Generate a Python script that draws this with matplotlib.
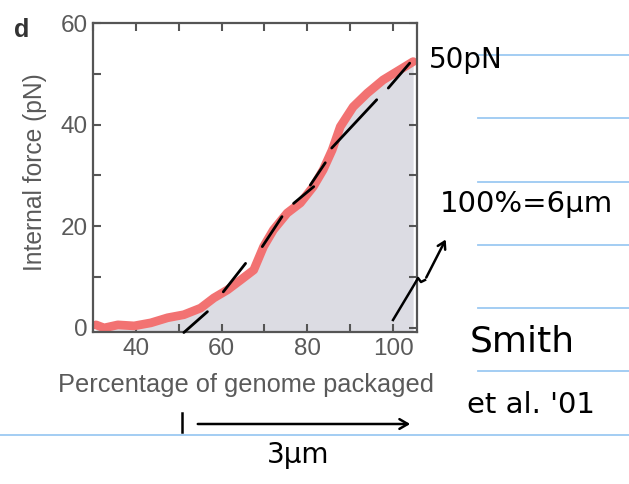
import matplotlib
matplotlib.use("Agg")
import matplotlib.pyplot as plt
from matplotlib.lines import Line2D
import numpy as np

# ---- data ----
pct_packaged = [30.7, 32.6, 35.8, 39.6, 43.5, 47.4, 51.2, 55.1, 58.2, 61.4, 64.4,
                67.5, 69.8, 72.1, 75.3, 78.4, 81.4, 83.7, 85.8, 87.7, 90.7, 94.0,
                97.7, 101.6, 104.7]
force_pN = [0.6, 0.0, 0.6, 0.4, 1.0, 2.0, 2.6, 3.9, 5.9, 7.5, 9.4,
            11.4, 16.0, 19.3, 22.6, 24.6, 27.8, 31.1, 35.0, 39.6, 43.5, 46.2,
            48.8, 50.8, 52.4]

# hand-drawn dashed line: start/end of each dash (data coords)
dash_x0 = [51.2, 60.4, 69.5, 76.8, 80.7, 85.7, 98.9]
dash_y0 = [-0.9, 7.1, 16.0, 24.5, 28.1, 35.4, 47.2]
dash_x1 = [56.7, 65.6, 74.1, 81.5, 84.2, 96.2, 103.9]
dash_y1 = [3.2, 12.7, 21.9, 27.8, 32.5, 44.9, 52.1]

x_ticks = [40, 60, 80, 100]
y_ticks = [0, 20, 40, 60]

W, H = 629, 484
fig = plt.figure(figsize=(W / 100, H / 100), dpi=100)
fig.patch.set_facecolor("white")

def fx(x):
    return x / W

def fy(y):
    return 1 - y / H

# notebook ruling lines (blue)
ruling_y = [55, 118, 182, 245, 308, 371]
for yy in ruling_y:
    fig.add_artist(Line2D([fx(478), fx(629)], [fy(yy), fy(yy)], color="#9cc9f2", lw=1.3, zorder=0))
fig.add_artist(Line2D([0, 1], [fy(435), fy(435)], color="#9cc9f2", lw=1.3, zorder=0))

ax = fig.add_axes([fx(93), fy(332), (417 - 93) / W, (332 - 23) / H])
ax.set_xlim(30.2, 105.6)
ax.set_ylim(-0.8, 60)

ax.fill_between(pct_packaged, force_pN, -0.8, color="#dcdce3", lw=0, zorder=1)
ax.plot(pct_packaged, force_pN, color="#f27272", lw=6.3, solid_capstyle="round",
        solid_joinstyle="round", zorder=2)
for a, b, c, d in zip(dash_x0, dash_y0, dash_x1, dash_y1):
    ax.plot([a, c], [b, d], color="black", lw=2.0, solid_capstyle="round", zorder=3,
            clip_on=False)

grey = "#5a5a5a"
ax.set_xticks(x_ticks)
ax.set_yticks(y_ticks)
ax.set_xticks(np.arange(30, 106, 10), minor=True)
ax.set_yticks(np.arange(0, 61, 10), minor=True)
ax.tick_params(which="both", direction="in", top=True, right=True, length=6,
               width=1.5, color="#555555")
ax.tick_params(which="major", labelsize=17.5, labelcolor=grey, pad=4)
for lab in ax.get_xticklabels() + ax.get_yticklabels():
    lab.set_fontfamily("Liberation Sans")
for s in ax.spines.values():
    s.set_color("#555555")
    s.set_linewidth(1.6)

fig.text(fx(246), fy(385), "Percentage of genome packaged", ha="center", va="center",
         fontsize=18.3, color=grey, family="Liberation Sans")
fig.text(fx(35), fy(172), "Internal force (pN)", ha="center", va="center", rotation=90,
         fontsize=17.7, color=grey, family="Liberation Sans")
fig.text(fx(22), fy(30), "d", ha="center", va="center", fontsize=18, fontweight="bold",
         color="#333333", family="Liberation Sans")

# handwritten annotations
hw = dict(color="black", family="DejaVu Sans", ha="center", va="center")
fig.text(fx(466), fy(60), "50pN", fontsize=20, **hw)
fig.text(fx(526), fy(204), "100%=6\u03bcm", fontsize=21, **hw)
fig.text(fx(522), fy(342), "Smith", fontsize=26, **hw)
fig.text(fx(531), fy(405), "et al. '01", fontsize=21, **hw)
fig.text(fx(298), fy(455), "3\u03bcm", fontsize=20, **hw)

# bar + long arrow under the x axis
fig.add_artist(Line2D([fx(182), fx(182)], [fy(413), fy(432)], color="black", lw=1.8))
ax.annotate("", xy=(413, H - 424), xytext=(195, H - 424), xycoords="figure pixels",
            textcoords="figure pixels",
            arrowprops=dict(arrowstyle="->,head_length=0.6,head_width=0.35", lw=1.8,
                            color="black"))
# squiggle arrow
sq_x = [393, 414, 418, 421, 425]
sq_y = [320, 285, 278, 282, 280]
fig.add_artist(Line2D([fx(v) for v in sq_x], [fy(v) for v in sq_y], color="black", lw=1.8))
ax.annotate("", xy=(447, H - 237), xytext=(425, H - 280), xycoords="figure pixels",
            textcoords="figure pixels",
            arrowprops=dict(arrowstyle="->,head_length=0.5,head_width=0.3", lw=1.8,
                            color="black"))

fig.savefig("out.png", dpi=100)
